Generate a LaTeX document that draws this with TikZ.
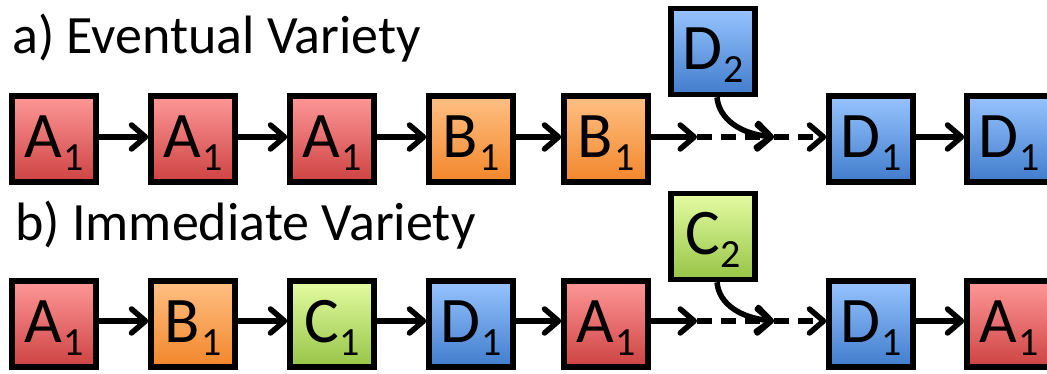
\documentclass[tikz,border=0pt]{standalone}
\usepackage{fontspec}
\setmainfont{Carlito}
\usetikzlibrary{arrows.meta}

\definecolor{redtop}{RGB}{255,152,152}
\definecolor{redbot}{RGB}{205,66,66}
\definecolor{orgtop}{RGB}{255,192,132}
\definecolor{orgbot}{RGB}{242,134,42}
\definecolor{grntop}{RGB}{228,252,162}
\definecolor{grnbot}{RGB}{150,196,70}
\definecolor{blutop}{RGB}{152,196,255}
\definecolor{blubot}{RGB}{64,124,204}

\newcommand{\blk}[2]{\fontsize{65}{65}\selectfont #1\kern1pt\raisebox{-13pt}{\fontsize{40}{40}\selectfont #2}}

\tikzset{
  box/.style={draw=black, line width=5.5pt, minimum width=84pt, minimum height=86pt,
    inner sep=0pt, text height=49pt, text depth=13pt},
  redbox/.style={box, top color=redtop, bottom color=redbot},
  orgbox/.style={box, top color=orgtop, bottom color=orgbot},
  grnbox/.style={box, top color=grntop, bottom color=grnbot},
  blubox/.style={box, top color=blutop, bottom color=blubot},
  link/.style={line width=5.5pt, -{Straight Barb[length=14pt, width=24pt, line cap=round, line join=round]}},
  dlink/.style={link, dash pattern=on 15pt off 9pt},
  title/.style={anchor=base west, inner sep=0pt, font=\fontsize{54}{54}\selectfont}
}

\begin{document}
\begin{tikzpicture}[x=1pt, y=-1pt]
\useasboundingbox (0,0) rectangle (1047,373);

% row a) eventual variety
\node[title] (ta) at (12,53) {a) Eventual Variety};
\node[redbox] (a1) at (54,139) {\blk{A}{1}};
\node[redbox] (a2) at (193,139) {\blk{A}{1}};
\node[redbox] (a3) at (332,139) {\blk{A}{1}};
\node[orgbox] (a4) at (471,139) {\blk{B}{1}};
\node[orgbox] (a5) at (606,139) {\blk{B}{1}};
\node[blubox] (a6) at (871,139) {\blk{D}{1}};
\node[blubox] (a7) at (1009,139) {\blk{D}{1}};
\node[blubox] (ad) at (713,51.5) {\blk{D}{2}};
\coordinate (am1) at (697,137);
\coordinate (am2) at (774,137);

\draw[link] ([yshift=2pt]a1.east) -- ([yshift=2pt]a2.west);
\draw[link] ([yshift=2pt]a2.east) -- ([yshift=2pt]a3.west);
\draw[link] ([yshift=2pt]a3.east) -- ([yshift=2pt]a4.west);
\draw[link] ([yshift=2pt]a4.east) -- ([yshift=2pt]a5.west);
\draw[link] ([yshift=2pt]a5.east) -- (am1);
\draw[dlink] (am1) -- (am2);
\draw[dlink] (am2) -- ([yshift=2pt]a6.west);
\draw[link] ([yshift=2pt]a6.east) -- ([yshift=2pt]a7.west);
\draw[link] ([xshift=4pt]ad.south) .. controls (719,120) and (742,134) .. (am2);

% row b) immediate variety
\node[title] (tb) at (15,240) {b) Immediate Variety};
\node[redbox] (b1) at (54,324) {\blk{A}{1}};
\node[orgbox] (b2) at (193,324) {\blk{B}{1}};
\node[grnbox] (b3) at (332,324) {\blk{C}{1}};
\node[blubox] (b4) at (471,324) {\blk{D}{1}};
\node[redbox] (b5) at (606,324) {\blk{A}{1}};
\node[blubox] (b6) at (871,324) {\blk{D}{1}};
\node[redbox] (b7) at (1009,324) {\blk{A}{1}};
\node[grnbox] (bc) at (713,236.5) {\blk{C}{2}};
\coordinate (bm1) at (697,321);
\coordinate (bm2) at (774,321);

\draw[link] ([yshift=3pt]b1.east) -- ([yshift=3pt]b2.west);
\draw[link] ([yshift=3pt]b2.east) -- ([yshift=3pt]b3.west);
\draw[link] ([yshift=3pt]b3.east) -- ([yshift=3pt]b4.west);
\draw[link] ([yshift=3pt]b4.east) -- ([yshift=3pt]b5.west);
\draw[link] ([yshift=3pt]b5.east) -- (bm1);
\draw[dlink] (bm1) -- (bm2);
\draw[dlink] (bm2) -- ([yshift=3pt]b6.west);
\draw[link] ([yshift=3pt]b6.east) -- ([yshift=3pt]b7.west);
\draw[link] ([xshift=4pt]bc.south) .. controls (719,305) and (742,318) .. (bm2);
\end{tikzpicture}
\end{document}
